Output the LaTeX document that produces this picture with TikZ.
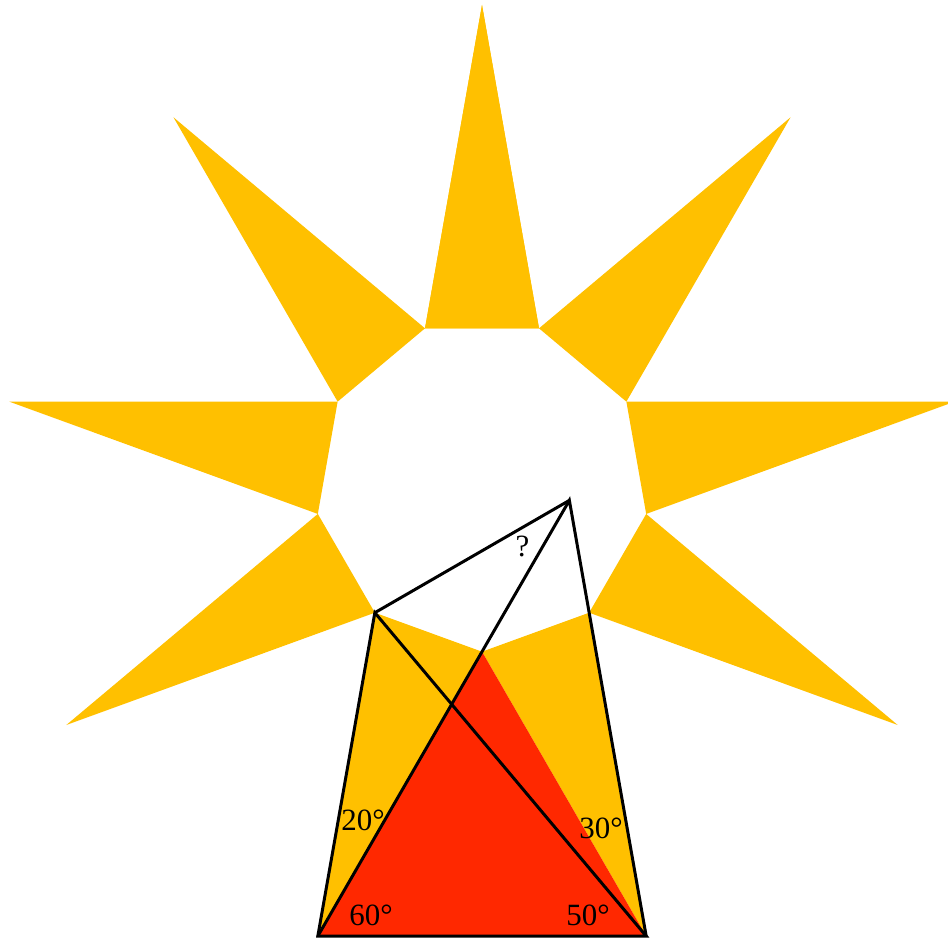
\documentclass[tikz,border=0pt]{standalone}
\usepackage{fontspec}
\setmainfont{Liberation Serif}
\usepackage{tikz}
\usetikzlibrary{calc}
\definecolor{sungold}{HTML}{FFC000}
\definecolor{sunred}{HTML}{FF2800}

\begin{document}
\begin{tikzpicture}[
    ray/.style={fill=sungold},
    wedge/.style={fill=sunred},
    edge/.style={draw=black, line width=0.85pt},
    angle/.style={font=\fontsize{8.8}{10}\selectfont, anchor=base, inner sep=0pt}
]
\useasboundingbox (-4.82,-4.54) rectangle (4.66,4.85);
\foreach \a in {90,130,...,450} {
    \fill[ray] (\a-20:1.667) -- (\a:4.8) -- (\a+20:1.667) -- cycle;
}
\coordinate (A) at (250:4.8);
\coordinate (B) at (290:4.8);
\coordinate (E) at (270:1.667);
\coordinate (C) at ($(A)!1!80:(B)$);
\coordinate (A60) at ($(A)!1!60:(B)$);
\coordinate (B80) at ($(B)!1!-80:(A)$);
\coordinate (D) at (intersection of A--A60 and B--B80);
\fill[wedge] (A) -- (B) -- (E) -- cycle;
\draw[edge] (A) -- (B) -- (C) -- cycle;
\draw[edge] (A) -- (D) -- (B);
\draw[edge] (C) -- (D);
\node[angle] (a20) at (-1.19,-3.45) {20°};
\node[angle] (a60) at (-1.11,-4.40) {60°};
\node[angle] (a30) at (1.19,-3.53) {30°};
\node[angle] (a50) at (1.06,-4.40) {50°};
\node[angle] (q) at (0.405,-0.72) {?};
\end{tikzpicture}
\end{document}
